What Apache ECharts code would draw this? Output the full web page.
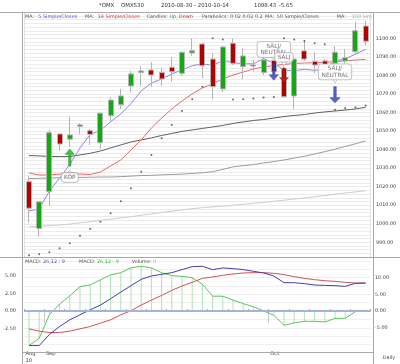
<!DOCTYPE html>
<html>
<head>
<meta charset="utf-8">
<title>OMXS30</title>
<style>
html,body{margin:0;padding:0;background:#ffffff;}
#chart{width:400px;height:364px;}
</style>
<script src="https://cdn.jsdelivr.net/npm/echarts@6.0.0/dist/echarts.min.js"></script>
</head>
<body>
<div id="chart"></div>
<script>
// ---------- data ----------
const dates = ['2010-08-30','2010-08-31','2010-09-01','2010-09-02','2010-09-03','2010-09-06','2010-09-07','2010-09-08','2010-09-09','2010-09-10','2010-09-13','2010-09-14','2010-09-15','2010-09-16','2010-09-17','2010-09-20','2010-09-21','2010-09-22','2010-09-23','2010-09-24','2010-09-27','2010-09-28','2010-09-29','2010-09-30','2010-10-01','2010-10-04','2010-10-05','2010-10-06','2010-10-07','2010-10-08','2010-10-11','2010-10-12','2010-10-13','2010-10-14'];
const opens  = [1022.7,997.4,1017.3,1048.4,1045.6,1053.3,1050.2,1043.7,1058.3,1064.2,1074.3,1081.5,1082.9,1081.5,1084.4,1081.1,1092.1,1096.9,1088.8,1072.7,1097.3,1084.7,1085.6,1081.5,1088.0,1083.7,1068.9,1093.2,1087.5,1087.8,1086.5,1087.8,1092.8,1106.6];
const closes = [1008.4,1011.8,1049.1,1043.0,1047.9,1052.6,1048.2,1059.6,1066.7,1068.9,1080.8,1082.4,1080.2,1078.1,1082.0,1092.5,1093.3,1085.2,1073.9,1095.3,1086.5,1090.5,1085.0,1088.3,1082.0,1068.5,1088.8,1088.8,1085.6,1085.6,1092.5,1089.5,1104.08,1098.43];
const lows   = [1000.6,993.0,1009.6,1039.4,1041.6,1048.2,1042.5,1040.2,1054.7,1061.9,1070.7,1074.3,1073.9,1074.4,1076.6,1079.7,1090.6,1078.4,1067.1,1071.0,1085.6,1077.9,1082.2,1080.2,1079.3,1068.0,1061.7,1087.8,1081.1,1084.5,1085.6,1086.5,1091.9,1096.4];
const highs  = [1025.8,1012.3,1050.6,1048.9,1057.7,1054.2,1051.1,1060.3,1068.4,1072.7,1082.5,1085.1,1087.1,1084.2,1089.8,1092.8,1100.0,1097.6,1091.9,1095.8,1100.0,1094.6,1088.3,1093.3,1090.6,1085.0,1089.2,1098.8,1092.5,1088.8,1096.0,1094.2,1109.0,1109.5];

const ma5   = [1006.9,1008.0,1017.6,1024.6,1032.0,1040.9,1048.2,1050.3,1055.0,1059.2,1064.8,1071.7,1075.8,1078.1,1080.7,1083.0,1085.2,1086.2,1085.4,1088.0,1086.8,1086.3,1086.2,1089.1,1086.5,1082.9,1082.5,1083.3,1082.7,1083.5,1087.8,1088.9,1091.5,1094.0];
const ma14  = [1027.4,1026.3,1026.3,1026.8,1027.1,1026.8,1026.6,1027.9,1031.2,1034.4,1039.8,1045.2,1051.6,1057.0,1061.9,1066.2,1070.0,1073.2,1075.4,1078.1,1080.2,1081.8,1083.5,1084.5,1085.3,1085.9,1086.4,1086.7,1086.8,1087.0,1087.4,1087.8,1088.3,1088.6];
const ma50  = [1036.8,1036.6,1036.3,1036.2,1036.3,1037.1,1038.0,1039.2,1040.9,1042.5,1044.1,1045.2,1046.3,1047.6,1048.7,1049.8,1050.6,1051.4,1052.2,1053.0,1054.1,1054.9,1055.7,1056.2,1057.0,1057.8,1058.4,1058.9,1059.7,1060.3,1060.8,1061.3,1061.9,1062.8];
const ma100 = [1024.4,1024.5,1024.7,1024.8,1024.9,1025.0,1025.1,1025.2,1025.2,1025.4,1025.7,1026.0,1026.1,1026.4,1026.6,1026.8,1027.1,1027.5,1028.1,1029.3,1030.7,1031.3,1031.9,1032.8,1033.5,1034.4,1035.4,1036.4,1037.6,1038.9,1040.2,1041.7,1043.1,1044.7];
const ma200 = [998.3,998.7,999.0,999.3,999.8,1000.5,1001.1,1001.8,1002.5,1003.1,1003.8,1004.6,1005.3,1006.1,1006.8,1007.5,1008.1,1008.7,1009.1,1009.5,1009.9,1010.5,1011.0,1011.5,1012.1,1012.7,1013.3,1013.9,1014.6,1015.2,1015.9,1016.6,1017.2,1017.8];
const sar   = [983.0,983.6,984.6,986.8,989.5,993.5,997.2,1001.1,1005.7,1012.1,1019.1,1028.1,1037.1,1046.1,1053.3,1060.8,1067.2,1073.9,1100.0,1099.4,1067.0,1067.1,1067.5,1068.1,1068.4,1100.0,1099.4,1098.5,1097.3,1096.8,1061.5,1062.3,1062.8,1063.8];

const macdLine   = [-10.3,-10.3,-7.0,-4.6,-2.6,-1.1,0.4,1.8,3.7,5.7,7.6,9.5,10.5,11.0,11.5,12.4,13.3,13.4,12.4,12.9,12.7,12.4,11.9,11.4,10.5,8.5,8.5,8.2,7.8,7.7,7.6,7.4,8.3,8.4];
const signalLine = [-5.3,-6.0,-6.4,-6.4,-6.0,-5.3,-4.6,-3.6,-2.6,-1.1,0.1,1.8,3.3,4.7,6.2,7.5,8.6,9.8,10.2,10.7,11.1,11.4,11.5,11.5,11.3,10.9,10.3,9.8,9.4,9.1,8.9,8.6,8.4,8.4];
const histogram  = [-4.84,-3.85,-0.50,1.0,2.15,3.45,3.7,4.4,5.1,5.4,6.1,6.3,6.1,5.4,5.0,4.9,4.7,3.8,2.1,2.1,1.55,1.06,0.61,0.04,-0.57,-2.0,-1.66,-1.44,-1.44,-1.53,-1.02,-1.02,-0.07,0.07];

// signals (arrows) and callouts
const buyArrowIdx = [4],  buyArrowValue = [1035.7];
const sellArrowIdx = [24, 30], sellArrowValue = [1082.0, 1069.6];
const redArrowIdx = [25], redArrowValue = [1080.2];
const boxText  = ['KÖP', 'SÄLJ/\nNEUTRAL', 'SÄLJ', 'SÄLJ/\nNEUTRAL'];
const boxIdx   = [4, 24, 25, 30];
const boxValue = [1025.0, 1094.0, 1089.8, 1081.9];
const pointerUpIdx = [4], pointerUpValue = [1027.9];
const pointerDownIdx = [24, 25, 30], pointerDownValue = [1089.1, 1086.3, 1077.1];

// axis ticks / labels
const priceTicks = [990, 1000, 1010, 1020, 1030, 1040, 1050, 1060, 1070, 1080, 1090, 1100];
const priceGrid = [982,984,986,988,990,992,994,996,998,1000,1002,1004,1006,1008,1010,1012,1014,1016,1018,1020,1022,1024,1026,1028,1030,1032,1034,1036,1038,1040,1042,1044,1046,1048,1050,1052,1054,1056,1058,1060,1062,1064,1066,1068,1070,1072,1074,1076,1078,1080,1082,1084,1086,1088,1090,1092,1094,1096,1098,1100,1102,1104,1106,1108,1110,1112];
const histTicks = [-2.5, 0, 2.5, 5];
const macdTicks = [-5, 0, 5, 10];
const macdGrid = [-10, -7.5, -5, -2.5, 0, 2.5, 5, 7.5, 10, 12.5, 15];
const monthLabels = ['Aug', 'Sep', 'Oct'];
const monthStart = [0, 2, 24];
const yearLabel = '10';
const symbolName = '*OMX', symbolCode = 'OMXS30';

// ---------- chart ----------
const FONT = '"DejaVu Sans", Verdana, sans-serif';
const lastClose = closes[closes.length - 1];
const change = lastClose - closes[closes.length - 2];
const labelPos = monthStart.map(i => i - 0.5 + 0.15);
const octIdx = monthStart[2];

const candleData = dates.map((d, i) => [opens[i], closes[i], lows[i], highs[i]]);
const pts = (idx, vals) => idx.map((x, i) => [x, vals[i]]);

const downArrow = 'path://M3,0 L5,0 L5,11 L8,11 L4,16 L0,11 L3,11 Z';
const upArrow = 'path://M4,0 L8,5 L5,5 L5,16 L3,16 L3,5 L0,5 Z';

function txt(x, y, text, color, size) {
  return { type: 'text', x: x, y: y, z: 20, silent: true,
    style: { text: text, fill: color, font: size + 'px ' + FONT, verticalAlign: 'middle', align: 'left' } };
}
function hline(x1, x2, y, color) {
  return { type: 'line', z: 15, silent: true, shape: { x1: x1, y1: y, x2: x2, y2: y }, style: { stroke: color, lineWidth: 1 } };
}
function vline(x, y1, y2, color) {
  return { type: 'line', z: 15, silent: true, shape: { x1: x, y1: y1, x2: x, y2: y2 }, style: { stroke: color, lineWidth: 1 } };
}

const LS = 4.9;
const graphics = [
  hline(0, 400, 12.5, '#a8a8a8'),
  hline(0, 400, 257.5, '#a8a8a8'),
  hline(22, 373, 352.5, '#a8a8a8'),
  vline(22.5, 12.5, 364, '#a8a8a8'),
  vline(373.5, 12.5, 364, '#a8a8a8'),
  // title
  txt(99, 5.5, symbolName, '#333', 5.4),
  txt(121, 5.5, symbolCode, '#333', 5.4),
  txt(161, 5.5, dates[0] + ' - ' + dates[dates.length - 1], '#333', 5.4),
  txt(254, 5.5, lastClose.toFixed(2), '#333', 5.4),
  txt(279, 5.5, change.toFixed(2), '#333', 5.4),
  // main legend
  txt(25, 16.5, 'MA:', '#555', LS),
  txt(38.3, 16.5, '5 Simple/Closes', '#5555cc', LS),
  txt(85, 16.5, 'MA:', '#555', LS),
  txt(97.7, 16.5, '14 Simple/Closes', '#cc3333', LS),
  txt(146.7, 16.5, 'Candles:', '#555', LS),
  txt(169.5, 16.5, 'Up,', '#22a022', LS),
  txt(179, 16.5, 'Down', '#c02a2a', LS),
  txt(201.7, 16.5, 'Parabolics:', '#555', LS),
  txt(230, 16.5, '0.02 0.02 0.2', '#555', LS),
  txt(265, 16.5, 'MA:', '#555', LS),
  txt(276.7, 16.5, '50 Simple/Closes', '#555', LS),
  txt(336.7, 16.5, 'MA:', '#555', LS),
  txt(351.7, 16.5, '100 Sim', '#aaaaaa', LS),
  // MACD legend
  txt(25, 261.5, 'MACD:', '#555', LS),
  txt(43, 261.5, '26,12 : 9', '#4c4ca6', LS),
  txt(79, 261.5, 'MACD:', '#555', LS),
  txt(97, 261.5, '26,12 - 9', '#3fa83f', LS),
  txt(131.7, 261.5, 'Volume:', '#555', LS),
  txt(153, 261.5, 'II', '#aaaaaa', LS),
  txt(382.7, 357.5, 'Daily', '#444', LS)
];

const option = {
  animation: false,
  backgroundColor: '#ffffff',
  textStyle: { fontFamily: FONT },
  grid: [
    { left: 23.9, right: 29.3, top: 12.7, height: 245 },
    { left: 23.9, right: 29.3, top: 257.7, height: 94.6 }
  ],
  xAxis: [
    { type: 'category', gridIndex: 0, data: dates, boundaryGap: true, position: 'bottom',
      axisLine: { show: false }, axisTick: { show: false }, axisLabel: { show: false },
      splitLine: { show: true, interval: (i) => i === octIdx, lineStyle: { color: '#e2e2e2', width: 1 } } },
    { type: 'category', gridIndex: 1, data: dates, boundaryGap: true, position: 'bottom',
      axisLine: { show: false }, axisLabel: { show: false }, splitLine: { show: false },
      axisTick: { show: true, inside: true, length: 2, interval: 1, lineStyle: { color: '#999' } } },
    { type: 'value', gridIndex: 1, min: -0.5, max: 33.5, position: 'bottom',
      axisLine: { show: false }, splitLine: { show: false },
      axisTick: { show: true, inside: false, length: 12, customValues: monthStart.slice(1).map(i => i - 0.5), lineStyle: { color: '#c8c8c8' } },
      axisLabel: { show: true, customValues: labelPos, align: 'left', margin: 1, fontSize: 5.2, lineHeight: 6.8, color: '#444', fontFamily: FONT,
        formatter: (v) => { const k = labelPos.findIndex(p => Math.abs(p - v) < 0.01); if (k < 0) return ''; return k === 0 ? monthLabels[0] + '\n' + yearLabel : monthLabels[k]; } } }
  ],
  yAxis: [
    { type: 'value', gridIndex: 0, position: 'right', offset: 2.3, min: 981.7, max: 1113.8,
      axisLine: { show: false }, axisTick: { show: false, customValues: priceGrid },
      axisLabel: { customValues: priceTicks, formatter: (v) => v.toFixed(2), fontSize: 4.9, color: '#444', margin: 3, fontFamily: FONT },
      splitLine: { show: true, lineStyle: { color: '#ececec', width: 1 } } },
    { type: 'value', gridIndex: 1, position: 'left', offset: 2, min: -5.39, max: 7.52,
      axisLine: { show: false }, axisTick: { show: false },
      axisLabel: { customValues: histTicks, formatter: (v) => v.toFixed(2), fontSize: 4.9, color: '#444', margin: 6, fontFamily: FONT },
      splitLine: { show: false } },
    { type: 'value', gridIndex: 1, position: 'right', offset: 2.3, min: -11.45, max: 15.97,
      axisLine: { show: false }, axisTick: { show: false, customValues: macdGrid },
      axisLabel: { customValues: macdTicks, formatter: (v) => v.toFixed(2), fontSize: 4.9, color: '#444', margin: 2, fontFamily: FONT },
      splitLine: { show: true, lineStyle: { color: '#efefef', width: 1 } } }
  ],
  graphic: graphics,
  series: [
    { name: 'MA 200', type: 'line', xAxisIndex: 0, yAxisIndex: 0, data: ma200, symbol: 'none', silent: true,
      lineStyle: { color: '#cdcdcd', width: 1 }, z: 2 },
    { name: 'MA 100', type: 'line', xAxisIndex: 0, yAxisIndex: 0, data: ma100, symbol: 'none', silent: true,
      lineStyle: { color: '#9c9c9c', width: 1 }, z: 2 },
    { name: 'MA 50', type: 'line', xAxisIndex: 0, yAxisIndex: 0, data: ma50, symbol: 'none', silent: true,
      lineStyle: { color: '#606060', width: 1 }, z: 2 },
    { name: 'MA 14', type: 'line', xAxisIndex: 0, yAxisIndex: 0, data: ma14, symbol: 'none', silent: true,
      lineStyle: { color: '#e46a6a', width: 1 }, z: 2 },
    { name: 'MA 5', type: 'line', xAxisIndex: 0, yAxisIndex: 0, data: ma5, symbol: 'none', silent: true,
      lineStyle: { color: '#8a8ae6', width: 1 }, z: 2 },
    { name: 'Candles', type: 'candlestick', xAxisIndex: 0, yAxisIndex: 0, data: candleData, barWidth: 5.5, silent: true,
      itemStyle: { color: '#14a914', color0: '#b30000', borderColor: '#b4b4b4', borderColor0: '#b4b4b4', borderWidth: 1 }, z: 3 },
    { name: 'Parabolic SAR', type: 'scatter', xAxisIndex: 0, yAxisIndex: 0, data: sar.map((v, i) => [i, v]), symbol: 'circle', symbolSize: 2, silent: true,
      itemStyle: { color: '#444' }, z: 3 },
    { name: 'Buy', type: 'scatter', xAxisIndex: 0, yAxisIndex: 0, data: pts(buyArrowIdx, buyArrowValue), symbol: upArrow, symbolSize: [9, 17], silent: true,
      itemStyle: { color: '#22b022', borderColor: '#138f13', borderWidth: 0.6 }, z: 4 },
    { name: 'Sell', type: 'scatter', xAxisIndex: 0, yAxisIndex: 0, data: pts(sellArrowIdx, sellArrowValue).map((p, i) => ({ value: p, symbolSize: i === 0 ? [9, 17] : [10, 16] })),
      symbol: downArrow, silent: true, itemStyle: { color: '#3240b4', borderColor: '#25309a', borderWidth: 0.6 }, z: 4 },
    { name: 'Sell2', type: 'scatter', xAxisIndex: 0, yAxisIndex: 0, data: pts(redArrowIdx, redArrowValue), symbol: downArrow, symbolSize: [9, 14], silent: true,
      itemStyle: { color: '#b42020', borderColor: '#901515', borderWidth: 0.6 }, z: 4 },
    { name: 'PointerUp', type: 'scatter', xAxisIndex: 0, yAxisIndex: 0, data: pts(pointerUpIdx, pointerUpValue), symbol: 'triangle', symbolSize: [6, 4], silent: true,
      itemStyle: { color: '#fff', borderColor: '#aaa', borderWidth: 0.8 }, z: 5 },
    { name: 'PointerDown', type: 'scatter', xAxisIndex: 0, yAxisIndex: 0, data: pts(pointerDownIdx, pointerDownValue), symbol: 'triangle', symbolRotate: 180, symbolSize: [6, 4], silent: true,
      itemStyle: { color: '#fff', borderColor: '#aaa', borderWidth: 0.8 }, z: 5 },
    { name: 'Boxes', type: 'scatter', xAxisIndex: 0, yAxisIndex: 0, symbol: 'circle', symbolSize: 1, silent: true,
      itemStyle: { color: 'rgba(0,0,0,0)' }, z: 6,
      data: boxText.map((t, i) => ({ value: [boxIdx[i], boxValue[i]], label: { formatter: t, padding: t.indexOf('\n') >= 0 ? [1.2, 3, 0.8, 3] : [1.4, 2.5, 1, 2.5] } })),
      label: { show: true, position: 'inside', fontSize: 5.8, lineHeight: 6.6, color: '#555', fontFamily: FONT, backgroundColor: '#ffffff',
        borderColor: '#aaaaaa', borderWidth: 0.8, borderRadius: 3 } },
    // MACD panel
    { name: 'Histogram', type: 'bar', xAxisIndex: 1, yAxisIndex: 1, data: histogram, barWidth: 1, silent: true,
      itemStyle: { color: '#b4e0b4' }, z: 2,
      markLine: { silent: true, symbol: 'none', label: { show: false }, lineStyle: { color: '#a5b3d8', width: 2, type: 'solid' }, data: [{ yAxis: 0 }] } },
    { name: 'MACD 26,12 - 9', type: 'line', xAxisIndex: 1, yAxisIndex: 1, data: histogram, symbol: 'none', silent: true,
      lineStyle: { color: '#5cc45c', width: 1 }, z: 3 },
    { name: 'Signal', type: 'line', xAxisIndex: 1, yAxisIndex: 2, data: signalLine, symbol: 'none', silent: true,
      lineStyle: { color: '#cc5555', width: 1 }, z: 3 },
    { name: 'MACD 26,12 : 9', type: 'line', xAxisIndex: 1, yAxisIndex: 2, data: macdLine, symbol: 'none', silent: true,
      lineStyle: { color: '#4040aa', width: 1 }, z: 3 }
  ]
};

const chart = echarts.init(document.getElementById('chart'), null, { renderer: 'canvas', width: 400, height: 364 });
chart.setOption(option);
</script>
</body>
</html>
